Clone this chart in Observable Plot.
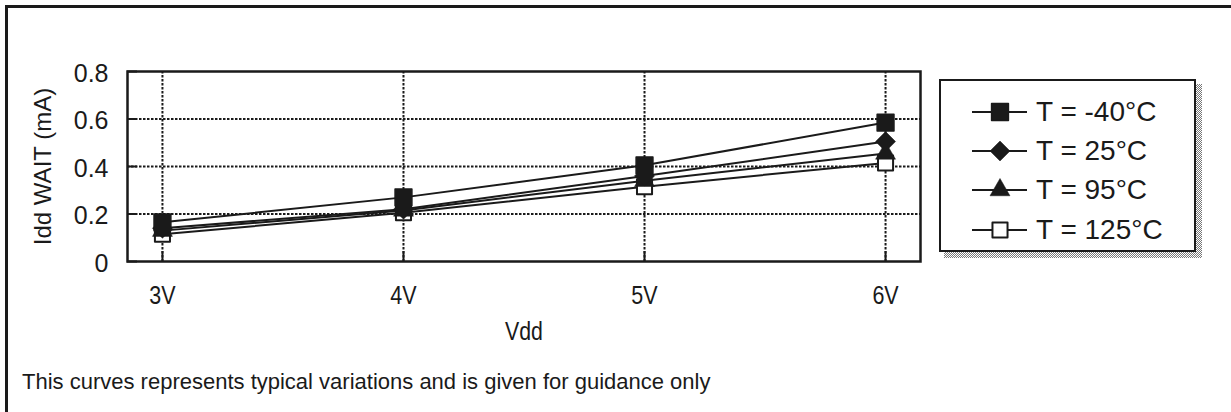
<!DOCTYPE html>
<html>
<head>
<meta charset="utf-8">
<script src="https://cdn.jsdelivr.net/npm/d3@7"></script>
<script src="https://cdn.jsdelivr.net/npm/@observablehq/plot@0.6"></script>
<style>
  html, body { margin: 0; padding: 0; background: #fff; }
  #root { position: relative; width: 1231px; height: 412px; overflow: hidden; font-family: "Liberation Sans", Arial, Helvetica, sans-serif; color: #1a1a1a; }
  #outer { position: absolute; left: 5px; top: 5px; right: -10px; bottom: -10px; border-top: 3px solid #1a1a1a; border-left: 3px solid #1a1a1a; }
  #chart { position: absolute; left: 0; top: 0; }
  #shadow { position: absolute; left: 944px; top: 84px; width: 258px; height: 174px;
    background: repeating-conic-gradient(#777 0% 25%, #fff 0% 50%) 0 0 / 2px 2px; }
  #legend { position: absolute; left: 939px; top: 79px; width: 253px; height: 169px; border: 2.5px solid #1a1a1a; background: #fff; }
  .row { position: absolute; left: 0; height: 32px; width: 250px; }
  .row svg { position: absolute; left: 31px; top: 4px; }
  .row span { position: absolute; left: 95px; top: 0; font-size: 28px; line-height: 32px; white-space: nowrap; }
  #caption { position: absolute; left: 22px; top: 369px; font-size: 22px; line-height: 26px; white-space: nowrap; }
</style>
</head>
<body>
<div id="root">
  <div id="outer"></div>
  <div id="chart"></div>
  <div id="shadow"></div>
  <div id="legend"></div>
  <div id="caption"></div>
</div>
<script>
// ---------- data ----------
const voltages = [3, 4, 5, 6];
const voltageLabels = ["3V", "4V", "5V", "6V"];
const yTicks = [0, 0.2, 0.4, 0.6, 0.8];
const yTickLabels = ["0", "0.2", "0.4", "0.6", "0.8"];
const seriesNames = ["T = -40°C", "T = 25°C", "T = 95°C", "T = 125°C"];
const idd_m40 = [0.165, 0.27, 0.405, 0.585];
const idd_25  = [0.14, 0.22, 0.36, 0.505];
const idd_95  = [0.13, 0.215, 0.34, 0.455];
const idd_125 = [0.115, 0.205, 0.315, 0.415];
const xLabel = "Vdd";
const yLabel = "Idd WAIT (mA)";
const captionText = "This curves represents typical variations and is given for guidance only";

// ---------- styles ----------
const ink = "#1a1a1a";
const fontFamily = '"Liberation Sans", Arial, Helvetica, sans-serif';
const seriesValues = [idd_m40, idd_25, idd_95, idd_125];
const seriesStyle = [
  {symbol: "square",   r: 9.5, fill: ink,    stroke: ink, strokeWidth: 1.5},
  {symbol: "diamond2", r: 9,   fill: ink,    stroke: ink, strokeWidth: 0.5},
  {symbol: "triangle", r: 7.4, fill: ink,    stroke: ink, strokeWidth: 0.5},
  {symbol: "square",   r: 8.5, fill: "#fff", stroke: ink, strokeWidth: 2}
];

const rows = seriesNames.flatMap((name, s) =>
  voltages.map((v, i) => ({v, series: name, value: seriesValues[s][i]})));

// layout
const W = 1231, H = 412;
const mL = 127, mR = 311, mT = 71, mB = 151;
const xPad = 0.145;
const xDomain = [voltages[0] - xPad, voltages[voltages.length - 1] + xPad];
const yDomain = [0, 0.8];
const pxPerX = (W - mL - mR) / (xDomain[1] - xDomain[0]);
const pxPerY = (H - mT - mB) / (yDomain[1] - yDomain[0]);
const tickLen = 10;

const grid = {stroke: ink, strokeWidth: 2, strokeDasharray: "2.5,1.5"};

const marks = [
  Plot.ruleY(yTicks.slice(1, -1), {y: d => d, ...grid}),
  Plot.ruleX(voltages, {x: d => d, ...grid}),
  Plot.ruleY(yTicks, {y: d => d, x1: xDomain[0], x2: xDomain[0] + tickLen / pxPerX, stroke: ink, strokeWidth: 2}),
  Plot.ruleX(voltages, {x: d => d, y1: 0, y2: tickLen / pxPerY, stroke: ink, strokeWidth: 2}),
  Plot.frame({stroke: ink, strokeWidth: 2.5})
];
// draw from 125°C up to -40°C so -40°C is on top
for (let s = seriesNames.length - 1; s >= 0; s--) {
  const d = rows.filter(r => r.series === seriesNames[s]);
  const st = seriesStyle[s];
  marks.push(Plot.line(d, {x: "v", y: "value", stroke: ink, strokeWidth: 2}));
  marks.push(Plot.dot(d, {x: "v", y: "value", symbol: st.symbol, r: st.r, fill: st.fill,
    stroke: st.stroke, strokeWidth: st.strokeWidth, strokeLinejoin: "round"}));
}
marks.push(
  Plot.axisY(yTicks, {tickSize: 0, tickPadding: 19, fontSize: 25, fill: ink, dy: 2,
    tickFormat: d => yTickLabels[yTicks.indexOf(d)], label: null}),
  Plot.axisX(voltages, {tickSize: 0, tickPadding: 25, fontSize: 25, fill: ink,
    tickFormat: d => voltageLabels[voltages.indexOf(d)], label: null}),
  Plot.text([yLabel], {text: d => d, x: xDomain[0] - 84 / pxPerX, y: (yDomain[0] + yDomain[1]) / 2,
    rotate: -90, fontSize: 24, fill: ink}),
  Plot.text([xLabel], {text: d => d, frameAnchor: "bottom", dy: 78, fontSize: 26, fill: ink})
);

const chart = Plot.plot({
  width: W, height: H,
  marginLeft: mL, marginRight: mR, marginTop: mT, marginBottom: mB,
  x: {type: "linear", domain: xDomain},
  y: {domain: yDomain},
  style: {fontFamily, fontSize: "22px", color: ink, background: "transparent", overflow: "visible"},
  marks
});
document.getElementById("chart").appendChild(chart);

// condense the x-side labels horizontally (they are tall and narrow in the reference)
function condense(labels, ratio) {
  chart.querySelectorAll("text").forEach(t => {
    if (!labels.includes(t.textContent)) return;
    const len = t.getComputedTextLength();
    if (len > 0) {
      t.setAttribute("textLength", (len * ratio).toFixed(1));
      t.setAttribute("lengthAdjust", "spacingAndGlyphs");
    }
  });
}
condense(voltageLabels, 0.86);
condense([xLabel], 0.82);

// ---------- legend ----------
const legend = document.getElementById("legend");
const rowCenters = [112, 151, 190, 230];
const d3Symbols = {square: d3.symbolSquare, diamond2: d3.symbolDiamond2, triangle: d3.symbolTriangle};
seriesNames.forEach((name, s) => {
  const st = seriesStyle[s];
  const row = document.createElement("div");
  row.className = "row";
  row.style.top = (rowCenters[s] - 79 - 2.5 - 16) + "px";
  const svg = d3.create("svg").attr("width", 56).attr("height", 24);
  svg.append("line").attr("x1", 0).attr("x2", 55).attr("y1", 12).attr("y2", 12)
    .attr("stroke", ink).attr("stroke-width", 2);
  svg.append("path")
    .attr("d", d3.symbol(d3Symbols[st.symbol], Math.PI * st.r * st.r)())
    .attr("transform", "translate(28,12)")
    .attr("fill", st.fill).attr("stroke", st.stroke).attr("stroke-width", st.strokeWidth)
    .attr("stroke-linejoin", "round");
  row.appendChild(svg.node());
  const span = document.createElement("span");
  span.textContent = name;
  row.appendChild(span);
  legend.appendChild(row);
});

document.getElementById("caption").textContent = captionText;
</script>
</body>
</html>
